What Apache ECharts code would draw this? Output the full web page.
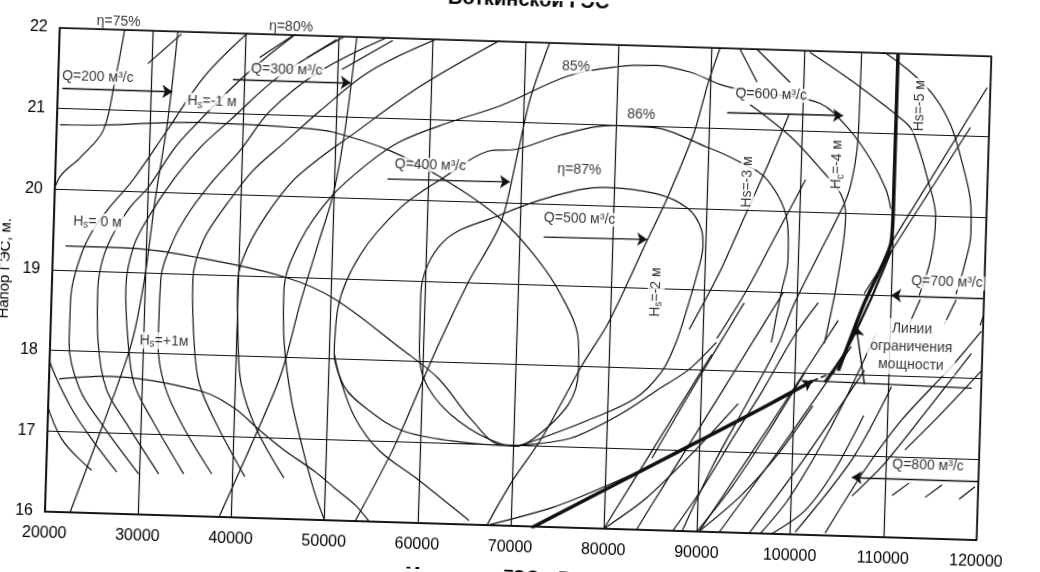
<!DOCTYPE html>
<html><head><meta charset="utf-8">
<script src="https://cdn.jsdelivr.net/npm/echarts@6/dist/echarts.min.js"></script>
<style>
html,body{margin:0;padding:0;background:#fff;overflow:hidden;width:1040px;height:572px}
#chart{width:1040px;height:572px;transform:rotate(1.75deg);transform-origin:520px 286px}
</style></head><body><div id="chart"></div>
<script>
const FONT = '"Liberation Sans", Arial, sans-serif';
const xTicks = [20000,30000,40000,50000,60000,70000,80000,90000,100000,110000,120000];
const yTicks = [16,17,18,19,20,21,22];

// discharge lines Q = 200 ... 600 m3/s
const q200 = [[22700,16.0],[25800,17.05],[28700,18.1],[29900,18.9],[30800,19.9],[31900,20.9],[32700,22.0]];
const q300 = [[38700,16.0],[42250,17.0],[44900,17.8],[46750,18.7],[48500,19.45],[49900,20.05],[50950,20.85],[51900,22.0]];
const q400 = [[53300,16.0],[57300,16.95],[61250,18.1],[64650,19.0],[67950,19.75],[69500,20.6],[70700,21.3],[72600,22.0]];
const q500 = [[67450,16.0],[70000,16.55],[73050,17.1],[77050,18.0],[79800,18.55],[83750,19.6],[85650,20.1],[88400,20.95],[89700,21.55],[90900,22.0]];
const q600 = [[88400,16.0],[91600,16.85],[94900,17.6],[98100,18.35],[99650,18.85],[102650,19.6],[104650,20.1],[105350,20.35],[105950,20.85],[106050,21.5],[106100,22.0]];

// efficiency contours (left branches and loops)
const effContours = [
 [[26980,22.0],[26090,21.36],[24990,20.74],[22630,20.40],[20350,20.12],[18650,19.38],[18410,18.39],[19430,17.52],[21550,16.91],[24880,16.53]],
 [[18990,18.27],[20200,17.81],[22510,17.29],[24760,16.92],[27570,16.52]],
 [[40390,22.03],[35730,21.46],[31860,20.77],[28400,20.15],[26040,19.81],[24300,19.52],[23000,19.18],[22080,18.68],[22040,18.11],[23290,17.54],[25780,17.11],[29940,16.5]],
 [[45760,22.05],[40020,21.48],[34330,20.78],[32580,20.53],[30040,20.06],[28180,19.81],[26660,19.52],[25470,19.19],[24950,18.78],[25150,18.12],[26190,17.54],[28470,17.12],[32080,16.51]],
 [[50600,22.0],[43780,21.49],[38580,20.92],[35470,20.57],[32690,20.16],[30150,19.69],[28650,19.32],[27950,18.82],[28370,18.13],[29170,17.61],[31130,17.19],[34760,16.52]],
 [[55430,22.02],[48050,21.56],[42840,21.05],[39770,20.55],[36990,20.17],[34630,19.79],[32920,19.42],[31670,18.92],[31590,18.14],[32390,17.62],[34370,17.14],[37770,16.53]],
 [[60800,22.02],[53420,21.58],[48200,21.07],[44360,20.65],[41240,20.31],[38570,19.89],[36140,19.43],[35110,18.93],[35450,18.15],[36150,17.64],[38120,17.15],[41320,16.51]],
 [[67250,22.01],[58840,21.41],[51200,20.74],[48380,20.49],[45570,20.2],[42900,19.78],[40890,19.35],[39940,18.94],[40170,18.17],[40650,17.65],[42430,17.1],[45510,16.51]]
];
const eta85 = [[50080,15.98],[48770,16.37],[47320,16.93],[46070,17.48],[45110,18.18],[44910,18.83],[46550,19.46],[49600,20.0],[53450,20.43],[56900,20.72],[62190,20.98],[67500,21.2],[74780,21.6],[80010,21.73],[84070,21.76],[87750,21.69],[91560,21.53],[96500,21.45],[101820,21.35],[104920,21.05],[107390,20.68],[109110,20.32],[109720,20.07]];
const eta86 = [[65520,16.05],[60000,16.53],[55600,16.89],[52900,17.29],[51010,17.83],[50510,18.07],[50770,18.64],[53030,19.31],[57150,19.9],[61550,20.28],[66270,20.63],[69480,20.67],[74040,20.86],[79800,21.0],[83890,20.99],[89970,20.76],[92910,20.62],[96420,20.38],[98740,19.82],[98870,19.4],[98240,18.99],[97350,18.37]];
const eta87 = [[70600,16.99],[68750,17.01],[64050,17.28],[60700,17.68],[59650,18.1],[59600,18.84],[61900,19.5],[67900,19.85],[73200,20.09],[78950,20.23],[84550,20.17],[87950,20.0],[89500,19.74],[89700,19.53],[89250,19.23],[88300,18.8],[87150,18.34],[85650,17.96],[82850,17.62],[77600,17.32],[73050,17.1],[70600,16.99]];

// suction head lines
const hsPlus1 = [[21100,17.65],[26700,17.7],[36400,17.55],[40000,17.35],[42650,17.1],[45500,16.85],[48800,16.6],[51000,16.4],[53250,16.2],[54800,16.0]];
const hsZero = [[21350,19.3],[27250,19.3],[35900,19.2],[44850,19.0],[50300,18.75],[57700,18.15],[61750,17.8],[65450,17.3],[68750,17.0],[70600,17.0]];
const hsMinus1 = [[20350,20.8],[24650,20.81],[35370,20.88],[46120,20.85],[49680,20.81],[55870,20.6],[61550,20.28],[67590,19.83],[71590,19.37],[74640,18.88],[76630,18.34],[76760,17.94],[75810,17.53],[72290,17.1],[70170,16.99],[63390,17.03],[57990,17.14],[54370,17.38],[51710,17.66],[50510,18.07]];
const hsMinus4 = [[94300,21.31],[98720,20.93],[102390,20.5],[104300,20.24],[104920,19.96],[104290,19.21],[103040,18.38]];
const hsMinus5 = [[100540,21.98],[106040,21.57],[111000,21.15],[111900,21.02],[113570,20.46],[114580,19.97],[114190,19.47],[113050,19.01]];
const rightArc = [[108380,22.02],[111350,21.78],[113900,21.5],[115840,21.14],[117280,20.65],[118290,20.16],[118400,19.79],[117770,19.38],[117000,19.04]];

// other curves in the right half
const slantLines = [
 [[70600,17.0],[76150,17.11],[81320,17.42],[85300,17.74],[88560,18.0],[91450,18.35]],
 [[66930,15.98],[74580,16.25],[80090,16.53],[85570,16.84],[89890,17.11]],
 [[84920,16.89],[88240,17.6],[91680,18.31],[94310,18.85]],
 [[87340,15.99],[90390,16.53],[93730,17.21],[96470,17.75],[99790,18.46],[102250,18.88]],
 [[90230,16.0],[95620,17.0],[98970,17.63],[104460,18.67]],
 [[92380,16.0],[99120,17.14],[105950,18.35]],
 [[95600,16.0],[101020,16.9],[107430,18.06]],
 [[100530,16.03],[106380,16.95],[110390,17.87]],
 [[103750,16.03],[107810,16.83],[111590,17.46],[116750,18.14],[119840,18.59]],
 [[106510,16.5],[109930,16.92],[114030,17.55],[118850,18.31]],
 [[112030,17.09],[115540,17.52],[119990,18.1]],
 [[109850,19.64],[119670,21.61]],
 [[107140,19.01],[118000,21.11]],
 [[80000,16.0],[83000,16.6],[87000,17.4],[91000,18.2]],
 [[80000,16.0],[84500,16.4],[89500,17.0],[94000,17.6]],
 [[83500,16.0],[86500,16.6],[90000,17.3],[94500,18.2],[98500,19.0]],
 [[90000,16.0],[93500,16.55],[97000,17.2],[101000,18.0]],
 [[90200,16.0],[94500,16.45],[98500,17.0],[102000,17.6]],
 [[96800,16.0],[99500,16.4],[102500,17.0],[105500,17.7],[108500,18.5]],
 [[98000,16.0],[101500,16.3],[104500,16.8],[107500,17.5]],
 [[91500,18.4],[94500,19.0],[97500,19.7],[100500,20.4]],
 [[88500,18.5],[91500,19.2],[94000,19.9],[96500,20.6],[98500,21.2]]
];

// power limit lines
const limitLow = [[72190,15.98],[89890,17.12],[96530,17.55],[101890,17.91]];
const limitHigh = [[104640,18.05],[107180,18.89],[109850,19.64],[110000,20.13],[110000,22.0]];
const limitSecond = [[103200,17.9],[105400,18.3],[107900,18.95],[109900,19.55]];
const limitBridge = [[101890,17.91],[104640,18.05]];
const shelfLine = [[101900,17.91],[119000,17.88]];

// hatch strokes
const hatches = [
 [[29570,21.59],[33100,21.97]],[[41560,21.71],[45020,21.99]],[[46600,21.72],[49750,21.96]],[[50400,21.59],[55760,21.97]],
 [[93010,22.0],[94970,21.59]],[[94840,22.0],[98510,21.6]],
 [[112090,18.65],[113170,18.96]],[[115840,18.66],[117030,18.97]],[[119700,18.66],[120000,18.78]],
 [[110800,16.52],[112580,16.68]],[[114350,16.51],[116120,16.67]],[[118000,16.5],[119660,16.66]]
];

// arrows [from, to]
const arrows = [
 [[20500,21.25],[32300,21.25]],
 [[38750,21.43],[51400,21.43]],
 [[55650,20.25],[68800,20.26]],
 [[72600,19.59],[83700,19.6]],
 [[91870,21.2],[104300,21.21]],
 [[120000,19.0],[110050,19.0]],
 [[120000,16.73],[106440,16.73]],
 [[107480,17.89],[106410,18.6]],
 [[98600,17.69],[101890,17.91]]
];

// annotations: N, H, text, kind
const notes = [
 [26300,22.1,'η=75%','h'],[44800,22.1,'η=80%','h'],
 [24260,21.40,'Q=200 м³/с','hb'],[44500,21.56,'Q=300 м³/с','hb'],
 [36580,21.14,'H{s|s}=-1 м','hb'],[24690,19.61,'H{s|s}= 0 м','hb'],[32220,18.16,'H{s|s}=+1м','hb'],
 [60210,20.44,'Q=400 м³/с','hb'],[75500,21.71,'85%','hb'],[82650,21.14,'86%','hb'],
 [96520,21.44,'Q=600 м³/с','hb'],[112550,21.36,'Hs=-5 м','v'],[103860,20.60,'H{s|c}=-4 м','v'],
 [94270,20.35,'Hs=-3 м','v'],[76200,20.44,'η=87%','hb'],[76390,19.83,'Q=500 м³/с','hb'],
 [84830,18.95,'H{s|s}=-2 м','v'],[116000,19.18,'Q=700 м³/с','hb'],
 [112390,18.37,'Линии\nограничения\nмощности','m'],[114560,16.90,'Q=800 м³/с','hb']
];

const INK = '#111';
function curve(data, w, smooth, z) {
  return {type:'line', data:data, symbol:'none', smooth:smooth, clip:true, silent:true,
    lineStyle:{color:INK, width:w}, z:z||3, animation:false};
}
const series = [];
[q200,q300,q400,q500,q600].forEach(d => series.push(curve(d,1.2,0.3)));
effContours.forEach(d => series.push(curve(d,1.2,0.35)));
[eta85,eta86,eta87].forEach(d => series.push(curve(d,1.2,0.35)));
[hsPlus1,hsZero,hsMinus1,hsMinus4,hsMinus5,rightArc].forEach(d => series.push(curve(d,1.2,0.35)));
slantLines.forEach(d => series.push(curve(d,1.2,0.3)));
series.push(curve(limitLow,3.5,0.2,4));
series.push(curve(limitHigh,3.5,0.2,4));
series.push(curve(limitSecond,2.2,0.2,4));
series.push(Object.assign(curve(limitBridge,1.5,0),{lineStyle:{color:INK,width:1.5,type:'dashed'}}));
series.push(curve(shelfLine,1.2,0));
hatches.forEach(d => series.push(curve(d,1.2,0)));
series.push({type:'lines', coordinateSystem:'cartesian2d', silent:true, animation:false, z:5,
  symbol:['none','arrow'], symbolSize:[0,10],
  lineStyle:{color:INK, width:1.4, opacity:1},
  data: arrows.map(a => ({coords:a}))});

const rich = {s:{fontSize:10, fontFamily:FONT, color:'#000', padding:[7,0,0,0]}};
series.push({type:'scatter', silent:true, animation:false, z:10, symbolSize:1, clip:false,
  itemStyle:{color:'rgba(0,0,0,0)'},
  data: notes.map(n => {
    const lbl = {show:true, position:'inside', formatter:n[2], color:'#000',
      fontFamily:FONT, fontSize:14, rich:rich};
    if (n[3]==='v') { lbl.rotate = 90; lbl.backgroundColor='#fff'; lbl.padding=[0,2]; }
    if (n[3]==='hb') { lbl.backgroundColor='#fff'; lbl.padding=[0,2]; }
    if (n[3]==='m') { lbl.align='center'; lbl.lineHeight=18; lbl.backgroundColor='#fff'; lbl.padding=[1,3]; }
    return {value:[n[0],n[1]], label:lbl};
  })});

const chart = echarts.init(document.getElementById('chart'), null, {renderer:'canvas'});
chart.setOption({
  animation:false,
  backgroundColor:'#fff',
  title:{text:'Воткинской ГЭС', left:'center', top:-15,
    textStyle:{fontSize:20, fontWeight:'bold', fontFamily:FONT, color:'#000'}},
  grid:{left:52, right:56, top:42, bottom:46, show:true, borderColor:INK, borderWidth:1.5},
  xAxis:{type:'value', min:xTicks[0], max:xTicks[xTicks.length-1], interval:xTicks[1]-xTicks[0],
    axisLine:{show:true, lineStyle:{color:INK, width:1.5}}, axisTick:{show:false},
    axisLabel:{color:'#000', fontSize:16, fontFamily:FONT, margin:14, formatter:v => String(v)},
    splitLine:{show:true, lineStyle:{color:INK, width:1.2}}},
  yAxis:{type:'value', min:yTicks[0], max:yTicks[yTicks.length-1], interval:1,
    axisLine:{show:true, lineStyle:{color:INK, width:1.5}}, axisTick:{show:false},
    axisLabel:{color:'#000', fontSize:16, fontFamily:FONT, margin:12},
    splitLine:{show:true, lineStyle:{color:INK, width:1.2}}},
  graphic:[
    {type:'text', x:5, y:284, rotation:Math.PI/2,
      style:{text:'Напор ГЭС, м.', font:'15px '+FONT, fill:'#000', align:'center', verticalAlign:'middle'}},
    {type:'text', x:414, y:569,
      style:{text:'Мощность ГЭС, кВт', font:'bold 18px '+FONT, fill:'#000', align:'left', verticalAlign:'top'}}
  ],
  series:series
});
</script></body></html>
